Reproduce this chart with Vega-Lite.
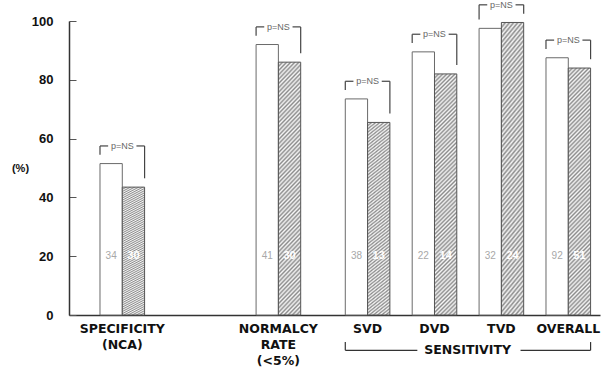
{
  "$schema": "https://vega.github.io/schema/vega-lite/v6.json",
  "width": 531,
  "height": 294,
  "autosize": "none",
  "padding": {"left": 69, "top": 21, "right": 6, "bottom": 56},
  "background": "white",
  "config": {"view": {"stroke": null}, "font": "Liberation Sans"},
  "data": {"values": [
    {"group": "SPECIFICITY (NCA)", "series": "A", "value": 51.5, "n": "34"},
    {"group": "SPECIFICITY (NCA)", "series": "B", "value": 43.5, "n": "30"},
    {"group": "NORMALCY RATE (<5%)", "series": "A", "value": 92, "n": "41"},
    {"group": "NORMALCY RATE (<5%)", "series": "B", "value": 86, "n": "30"},
    {"group": "SVD", "series": "A", "value": 73.5, "n": "38"},
    {"group": "SVD", "series": "B", "value": 65.5, "n": "13"},
    {"group": "DVD", "series": "A", "value": 89.5, "n": "22"},
    {"group": "DVD", "series": "B", "value": 82, "n": "14"},
    {"group": "TVD", "series": "A", "value": 97.5, "n": "32"},
    {"group": "TVD", "series": "B", "value": 99.5, "n": "24"},
    {"group": "OVERALL", "series": "A", "value": 87.5, "n": "92"},
    {"group": "OVERALL", "series": "B", "value": 84, "n": "51"}
  ]},
  "transform": [
    {"calculate": "datum.group + '|' + datum.series", "as": "key"},
    {"joinaggregate": [{"op": "max", "field": "value", "as": "mx"}], "groupby": ["group"]},
    {"calculate": "datum.mx + 6", "as": "top"},
    {"calculate": "datum.value + 3", "as": "legEnd"}
  ],
  "encoding": {
    "x": {
      "field": "key", "type": "nominal",
      "scale": {
        "domain": ["SPECIFICITY (NCA)|A", "SPECIFICITY (NCA)|B", "g1", "g2", "g3", "g4", "g5", "NORMALCY RATE (<5%)|A", "NORMALCY RATE (<5%)|B", "g6", "g7", "SVD|A", "SVD|B", "g8", "DVD|A", "DVD|B", "g9", "TVD|A", "TVD|B", "g10", "OVERALL|A", "OVERALL|B"],
        "paddingInner": 0, "paddingOuter": 0.906, "align": 0.767
      },
      "axis": {
        "title": null, "ticks": false, "grid": false, "labelAngle": 0, "labelOffset": 11.15,
        "labelOverlap": false, "labelBound": false, "labelFlush": false,
        "labelFont": "DejaVu Sans", "labelFontWeight": "bold", "labelFontSize": 12.5, "labelColor": "#111",
        "labelPadding": 7, "labelLineHeight": 16, "labelBaseline": "top", "labelAlign": "center",
        "domainColor": "#333", "domainWidth": 1.5,
        "labelExpr": "datum.value == 'SPECIFICITY (NCA)|A' ? ['SPECIFICITY', '(NCA)'] : datum.value == 'NORMALCY RATE (<5%)|A' ? ['NORMALCY', 'RATE', '(<5%)'] : (indexof(datum.value, '|A') > 0 ? replace(datum.value, '|A', '') : '')"
      }
    },
    "y": {
      "field": "value", "type": "quantitative", "title": "(%)",
      "scale": {"domain": [0, 100], "nice": false},
      "axis": {
        "values": [0, 20, 40, 60, 80, 100], "grid": false, "tickSize": -7, "tickColor": "#555", "tickWidth": 1,
        "labelPadding": 23, "labelFont": "Liberation Sans", "labelFontWeight": "bold", "labelFontSize": 13, "labelColor": "#111",
        "domainColor": "#333", "domainWidth": 1.5,
        "title": "(%)", "titleAngle": 0, "titleX": -49, "titleY": 147, "titleAlign": "center", "titleBaseline": "middle",
        "titleFont": "Liberation Sans", "titleFontSize": 11, "titleFontWeight": "bold", "titleColor": "#111"
      }
    }
  },
  "layer": [
    {
      "transform": [{"filter": "datum.series == 'A'"}],
      "mark": {"type": "bar", "fill": "white", "stroke": "#6a6a6a", "strokeWidth": 1}
    },
    {
      "transform": [{"filter": "datum.series == 'B'"}],
      "mark": {"type": "bar", "stroke": "#555", "strokeWidth": 1,
        "fill": {"gradient": "linear", "x1": 0, "y1": 0, "x2": 0.1, "y2": 1.083, "stops": [
{"offset":0,"color":"#8c8c8c"},{"offset":0.00781,"color":"#f7f7f7"},{"offset":0.01563,"color":"#8c8c8c"},{"offset":0.02344,"color":"#f7f7f7"},
{"offset":0.03125,"color":"#8c8c8c"},{"offset":0.03906,"color":"#f7f7f7"},{"offset":0.04688,"color":"#8c8c8c"},{"offset":0.05469,"color":"#f7f7f7"},
{"offset":0.0625,"color":"#8c8c8c"},{"offset":0.07031,"color":"#f7f7f7"},{"offset":0.07813,"color":"#8c8c8c"},{"offset":0.08594,"color":"#f7f7f7"},
{"offset":0.09375,"color":"#8c8c8c"},{"offset":0.10156,"color":"#f7f7f7"},{"offset":0.10938,"color":"#8c8c8c"},{"offset":0.11719,"color":"#f7f7f7"},
{"offset":0.125,"color":"#8c8c8c"},{"offset":0.13281,"color":"#f7f7f7"},{"offset":0.14063,"color":"#8c8c8c"},{"offset":0.14844,"color":"#f7f7f7"},
{"offset":0.15625,"color":"#8c8c8c"},{"offset":0.16406,"color":"#f7f7f7"},{"offset":0.17188,"color":"#8c8c8c"},{"offset":0.17969,"color":"#f7f7f7"},
{"offset":0.1875,"color":"#8c8c8c"},{"offset":0.19531,"color":"#f7f7f7"},{"offset":0.20313,"color":"#8c8c8c"},{"offset":0.21094,"color":"#f7f7f7"},
{"offset":0.21875,"color":"#8c8c8c"},{"offset":0.22656,"color":"#f7f7f7"},{"offset":0.23438,"color":"#8c8c8c"},{"offset":0.24219,"color":"#f7f7f7"},
{"offset":0.25,"color":"#8c8c8c"},{"offset":0.25781,"color":"#f7f7f7"},{"offset":0.26563,"color":"#8c8c8c"},{"offset":0.27344,"color":"#f7f7f7"},
{"offset":0.28125,"color":"#8c8c8c"},{"offset":0.28906,"color":"#f7f7f7"},{"offset":0.29688,"color":"#8c8c8c"},{"offset":0.30469,"color":"#f7f7f7"},
{"offset":0.3125,"color":"#8c8c8c"},{"offset":0.32031,"color":"#f7f7f7"},{"offset":0.32813,"color":"#8c8c8c"},{"offset":0.33594,"color":"#f7f7f7"},
{"offset":0.34375,"color":"#8c8c8c"},{"offset":0.35156,"color":"#f7f7f7"},{"offset":0.35938,"color":"#8c8c8c"},{"offset":0.36719,"color":"#f7f7f7"},
{"offset":0.375,"color":"#8c8c8c"},{"offset":0.38281,"color":"#f7f7f7"},{"offset":0.39063,"color":"#8c8c8c"},{"offset":0.39844,"color":"#f7f7f7"},
{"offset":0.40625,"color":"#8c8c8c"},{"offset":0.41406,"color":"#f7f7f7"},{"offset":0.42188,"color":"#8c8c8c"},{"offset":0.42969,"color":"#f7f7f7"},
{"offset":0.4375,"color":"#8c8c8c"},{"offset":0.44531,"color":"#f7f7f7"},{"offset":0.45313,"color":"#8c8c8c"},{"offset":0.46094,"color":"#f7f7f7"},
{"offset":0.46875,"color":"#8c8c8c"},{"offset":0.47656,"color":"#f7f7f7"},{"offset":0.48438,"color":"#8c8c8c"},{"offset":0.49219,"color":"#f7f7f7"},
{"offset":0.5,"color":"#8c8c8c"},{"offset":0.50781,"color":"#f7f7f7"},{"offset":0.51563,"color":"#8c8c8c"},{"offset":0.52344,"color":"#f7f7f7"},
{"offset":0.53125,"color":"#8c8c8c"},{"offset":0.53906,"color":"#f7f7f7"},{"offset":0.54688,"color":"#8c8c8c"},{"offset":0.55469,"color":"#f7f7f7"},
{"offset":0.5625,"color":"#8c8c8c"},{"offset":0.57031,"color":"#f7f7f7"},{"offset":0.57813,"color":"#8c8c8c"},{"offset":0.58594,"color":"#f7f7f7"},
{"offset":0.59375,"color":"#8c8c8c"},{"offset":0.60156,"color":"#f7f7f7"},{"offset":0.60938,"color":"#8c8c8c"},{"offset":0.61719,"color":"#f7f7f7"},
{"offset":0.625,"color":"#8c8c8c"},{"offset":0.63281,"color":"#f7f7f7"},{"offset":0.64063,"color":"#8c8c8c"},{"offset":0.64844,"color":"#f7f7f7"},
{"offset":0.65625,"color":"#8c8c8c"},{"offset":0.66406,"color":"#f7f7f7"},{"offset":0.67188,"color":"#8c8c8c"},{"offset":0.67969,"color":"#f7f7f7"},
{"offset":0.6875,"color":"#8c8c8c"},{"offset":0.69531,"color":"#f7f7f7"},{"offset":0.70313,"color":"#8c8c8c"},{"offset":0.71094,"color":"#f7f7f7"},
{"offset":0.71875,"color":"#8c8c8c"},{"offset":0.72656,"color":"#f7f7f7"},{"offset":0.73438,"color":"#8c8c8c"},{"offset":0.74219,"color":"#f7f7f7"},
{"offset":0.75,"color":"#8c8c8c"},{"offset":0.75781,"color":"#f7f7f7"},{"offset":0.76563,"color":"#8c8c8c"},{"offset":0.77344,"color":"#f7f7f7"},
{"offset":0.78125,"color":"#8c8c8c"},{"offset":0.78906,"color":"#f7f7f7"},{"offset":0.79688,"color":"#8c8c8c"},{"offset":0.80469,"color":"#f7f7f7"},
{"offset":0.8125,"color":"#8c8c8c"},{"offset":0.82031,"color":"#f7f7f7"},{"offset":0.82813,"color":"#8c8c8c"},{"offset":0.83594,"color":"#f7f7f7"},
{"offset":0.84375,"color":"#8c8c8c"},{"offset":0.85156,"color":"#f7f7f7"},{"offset":0.85938,"color":"#8c8c8c"},{"offset":0.86719,"color":"#f7f7f7"},
{"offset":0.875,"color":"#8c8c8c"},{"offset":0.88281,"color":"#f7f7f7"},{"offset":0.89063,"color":"#8c8c8c"},{"offset":0.89844,"color":"#f7f7f7"},
{"offset":0.90625,"color":"#8c8c8c"},{"offset":0.91406,"color":"#f7f7f7"},{"offset":0.92188,"color":"#8c8c8c"},{"offset":0.92969,"color":"#f7f7f7"},
{"offset":0.9375,"color":"#8c8c8c"},{"offset":0.94531,"color":"#f7f7f7"},{"offset":0.95313,"color":"#8c8c8c"},{"offset":0.96094,"color":"#f7f7f7"},
{"offset":0.96875,"color":"#8c8c8c"},{"offset":0.97656,"color":"#f7f7f7"},{"offset":0.98438,"color":"#8c8c8c"},{"offset":0.99219,"color":"#f7f7f7"},
{"offset":1,"color":"#8c8c8c"}
        ]}
      }
    },
    {
      "transform": [{"filter": "datum.series == 'A'"}],
      "mark": {"type": "text", "fill": "#a8a8a8", "fontSize": 10, "baseline": "middle", "align": "center"},
      "encoding": {
        "y": {"datum": 20, "title": "(%)", "scale": {"domain": [0, 100], "nice": false}},
        "text": {"field": "n"}
      }
    },
    {
      "transform": [{"filter": "datum.series == 'B'"}],
      "mark": {"type": "text", "fill": "white", "fontWeight": "bold", "fontSize": 11, "baseline": "middle", "align": "center"},
      "encoding": {
        "y": {"datum": 20, "title": "(%)", "scale": {"domain": [0, 100], "nice": false}},
        "text": {"field": "n"}
      }
    },
    {
      "transform": [{"filter": "datum.series == 'A'"}],
      "mark": {"type": "rule", "xOffset": -11.15, "stroke": "#444", "strokeWidth": 1.2},
      "encoding": {
        "y": {"field": "top", "type": "quantitative", "title": "(%)", "scale": {"domain": [0, 100], "nice": false}},
        "y2": {"field": "legEnd"}
      }
    },
    {
      "transform": [{"filter": "datum.series == 'B'"}],
      "mark": {"type": "rule", "xOffset": 11.15, "stroke": "#444", "strokeWidth": 1.2},
      "encoding": {
        "y": {"field": "top", "type": "quantitative", "title": "(%)", "scale": {"domain": [0, 100], "nice": false}},
        "y2": {"field": "legEnd"}
      }
    },
    {
      "transform": [{"filter": "datum.series == 'A'"}],
      "mark": {"type": "rule", "xOffset": -11.15, "x2Offset": -3, "stroke": "#444", "strokeWidth": 1.2},
      "encoding": {
        "x2": {"field": "key"},
        "y": {"field": "top", "type": "quantitative", "title": "(%)", "scale": {"domain": [0, 100], "nice": false}}
      }
    },
    {
      "transform": [{"filter": "datum.series == 'B'"}],
      "mark": {"type": "rule", "xOffset": 11.15, "x2Offset": 3, "stroke": "#444", "strokeWidth": 1.2},
      "encoding": {
        "x2": {"field": "key"},
        "y": {"field": "top", "type": "quantitative", "title": "(%)", "scale": {"domain": [0, 100], "nice": false}}
      }
    },
    {
      "transform": [{"filter": "datum.series == 'A'"}],
      "mark": {"type": "text", "xOffset": 11.15, "fill": "#666", "fontSize": 9, "baseline": "middle", "align": "center"},
      "encoding": {
        "y": {"field": "top", "type": "quantitative", "title": "(%)", "scale": {"domain": [0, 100], "nice": false}},
        "text": {"value": "p=NS"}
      }
    },
    {
      "transform": [{"filter": "datum.key == 'SVD|A'"}],
      "mark": {"type": "rule", "xOffset": -11.15, "x2Offset": -6, "stroke": "#333", "strokeWidth": 1.2},
      "encoding": {
        "x2": {"datum": "DVD|A"},
        "y": {"datum": -12, "title": "(%)", "scale": {"domain": [0, 100], "nice": false}}
      }
    },
    {
      "transform": [{"filter": "datum.key == 'OVERALL|B'"}],
      "mark": {"type": "rule", "xOffset": 11.15, "x2Offset": 8, "stroke": "#333", "strokeWidth": 1.2},
      "encoding": {
        "x2": {"datum": "TVD|B"},
        "y": {"datum": -12, "title": "(%)", "scale": {"domain": [0, 100], "nice": false}}
      }
    },
    {
      "transform": [{"filter": "datum.key == 'SVD|A'"}],
      "mark": {"type": "rule", "xOffset": -11.15, "stroke": "#333", "strokeWidth": 1.2},
      "encoding": {
        "y": {"datum": -12, "title": "(%)", "scale": {"domain": [0, 100], "nice": false}},
        "y2": {"datum": -9.2}
      }
    },
    {
      "transform": [{"filter": "datum.key == 'OVERALL|B'"}],
      "mark": {"type": "rule", "xOffset": 11.15, "stroke": "#333", "strokeWidth": 1.2},
      "encoding": {
        "y": {"datum": -12, "title": "(%)", "scale": {"domain": [0, 100], "nice": false}},
        "y2": {"datum": -9.2}
      }
    },
    {
      "transform": [{"filter": "datum.key == 'DVD|B'"}],
      "mark": {"type": "text", "xOffset": 22, "font": "DejaVu Sans", "fontWeight": "bold", "fontSize": 12.5, "fill": "#111", "baseline": "middle", "align": "center"},
      "encoding": {
        "y": {"datum": -12, "title": "(%)", "scale": {"domain": [0, 100], "nice": false}},
        "text": {"value": "SENSITIVITY"}
      }
    }
  ]
}
